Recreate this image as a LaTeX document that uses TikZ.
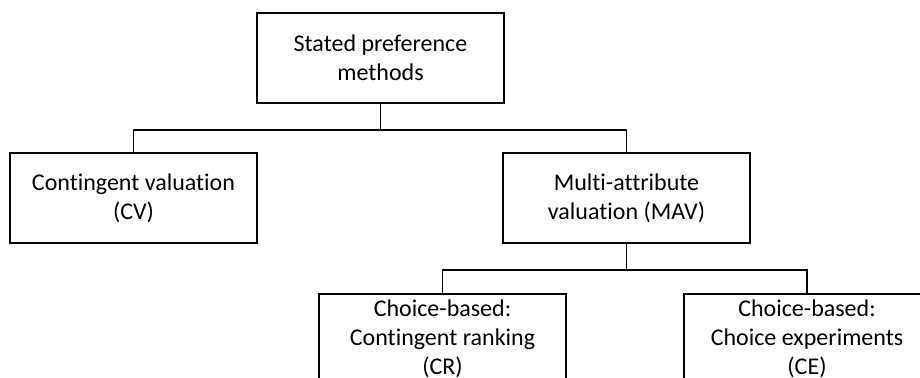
\documentclass[tikz,border=0pt]{standalone}
\usepackage{fontspec}
\setmainfont{Carlito}[Ligatures=NoCommon]
\usepackage{tikz}

\begin{document}
\begin{tikzpicture}[x=0.5pt,y=-0.5pt,
	methodbox/.style={draw,line width=1pt,minimum width=123.5pt,minimum height=45pt,
		inner sep=1pt,align=center,font=\fontsize{12}{14.6}\selectfont},
	link/.style={line width=0.6pt}]
	\clip (0,0) rectangle (920,378);
	
	\node[methodbox] (spm) at (380.5,58) {Stated preference\\methods};
	\node[methodbox] (cv) at (133.5,198) {Contingent valuation\\(CV)};
	\node[methodbox] (mav) at (626.5,198) {Multi-attribute\\valuation (MAV)};
	\node[methodbox] (cr) at (442.5,339) {Choice-based:\\Contingent ranking\\(CR)};
	\node[methodbox] (ce) at (807,339) {Choice-based:\\Choice experiments\\(CE)};
	
	\draw[link] (spm.south) -- ++(0,26) coordinate (spmbar);
	\draw[link] (cv.north) |- (spmbar) -| (mav.north);
	\draw[link] (mav.south) -- ++(0,26) coordinate (mavbar);
	\draw[link] (cr.north) |- (mavbar) -| (ce.north);
\end{tikzpicture}
\end{document}
